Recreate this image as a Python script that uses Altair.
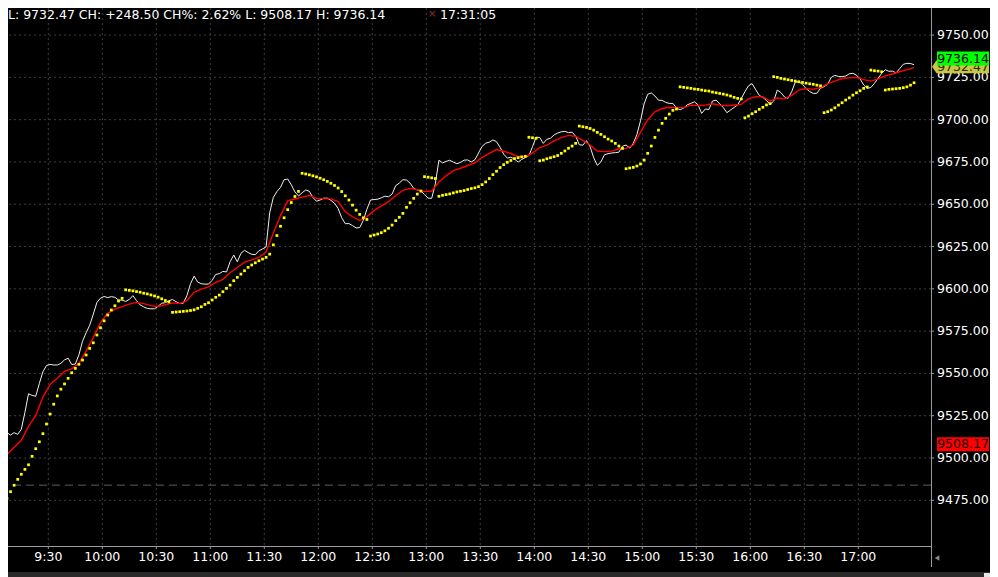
import altair as alt
import pandas as pd

# ---------------- data ----------------
# 2-minute bars, time in minutes after midnight (9:03 ... 17:31)
bar_times = list(range(543, 1052, 2))

price = [
    9524.4, 9523.8, 9515.0, 9513.6, 9515.0, 9514.0, 9517.0, 9527.0, 9538.0, 9537.0,
    9536.5, 9544.0, 9551.0, 9554.7, 9555.3, 9555.0, 9555.0, 9556.0, 9558.0, 9559.0,
    9555.3, 9555.5, 9561.0, 9569.0, 9574.0, 9578.5, 9585.0, 9592.0, 9594.5, 9595.5,
    9594.8, 9595.4, 9595.0, 9593.4, 9593.3, 9592.6, 9593.7, 9596.0, 9593.0, 9590.5,
    9589.3, 9588.4, 9588.2, 9588.2, 9589.7, 9591.5, 9591.8, 9593.0, 9593.7, 9592.4,
    9591.3, 9591.5, 9596.0, 9603.0, 9607.5, 9604.0, 9603.0, 9602.8, 9602.8, 9605.0,
    9608.5, 9609.0, 9610.3, 9610.0, 9616.0, 9620.0, 9616.0, 9621.0, 9622.8, 9621.5,
    9620.4, 9620.2, 9622.5, 9623.6, 9624.8, 9645.0, 9654.0, 9657.5, 9660.0, 9664.5,
    9664.9, 9661.5, 9657.3, 9654.9, 9656.8, 9658.4, 9657.7, 9654.0, 9651.8, 9652.5,
    9653.6, 9653.6, 9652.3, 9650.6, 9647.5, 9642.0, 9638.5, 9638.6, 9637.4, 9636.0,
    9636.2, 9640.5, 9647.0, 9652.5, 9652.8, 9653.0, 9653.8, 9654.8, 9654.4, 9656.0,
    9661.0, 9662.5, 9664.5, 9664.3, 9662.5, 9659.4, 9658.4, 9657.9, 9655.7, 9653.6,
    9653.5, 9662.0, 9676.0, 9674.5, 9675.3, 9676.0, 9674.9, 9674.0, 9674.7, 9676.1,
    9676.2, 9675.0, 9676.3, 9680.3, 9684.2, 9686.1, 9686.7, 9688.0, 9687.0, 9683.7,
    9679.6, 9677.3, 9677.8, 9676.7, 9674.9, 9676.5, 9677.6, 9678.8, 9684.0, 9689.6,
    9689.5, 9686.0, 9688.4, 9689.0, 9691.0, 9692.1, 9692.8, 9693.1, 9692.3, 9692.6,
    9690.2, 9685.2, 9684.9, 9687.6, 9684.0, 9677.5, 9673.0, 9675.0, 9679.3, 9679.9,
    9680.3, 9680.5, 9680.8, 9684.3, 9685.0, 9683.2, 9686.0, 9691.2, 9699.3, 9709.3,
    9715.0, 9715.8, 9714.0, 9711.5, 9711.4, 9710.2, 9709.6, 9709.6, 9706.8, 9705.8,
    9706.9, 9708.8, 9709.6, 9710.6, 9708.7, 9703.7, 9706.3, 9706.0, 9711.0, 9711.6,
    9709.3, 9707.2, 9704.1, 9705.7, 9707.2, 9708.8, 9712.5, 9716.5, 9720.0, 9721.3,
    9717.7, 9714.3, 9713.2, 9711.3, 9709.0, 9711.0, 9717.5, 9716.0, 9713.4, 9712.6,
    9716.5, 9722.2, 9722.4, 9720.8, 9718.4, 9716.6, 9715.5, 9715.6, 9718.6, 9719.5,
    9721.0, 9725.0, 9726.2, 9725.5, 9725.4, 9725.8, 9727.1, 9727.4, 9726.3, 9724.1,
    9720.5, 9718.5, 9719.0, 9721.5, 9724.5, 9727.4, 9729.5, 9728.6, 9728.7, 9727.6,
    9730.2, 9732.7, 9733.3, 9733.2, 9732.47,
]

sar = [
    9466.9, 9471.6, 9476.2, 9480.1, 9483.9, 9487.4, 9490.4, 9493.3, 9496.0, 9501.0,
    9505.5, 9509.6, 9514.4, 9520.1, 9526.0, 9531.8, 9536.7, 9540.7, 9543.8, 9547.1,
    9550.4, 9553.0, 9555.4, 9557.9, 9560.9, 9564.8, 9568.1, 9572.7, 9577.0, 9581.1,
    9584.5, 9587.5, 9590.0, 9592.8, 9594.4, 9599.4, 9599.1, 9598.8, 9598.4, 9598.0,
    9597.4, 9597.0, 9596.4, 9595.8, 9595.1, 9594.1, 9593.1, 9592.3, 9586.1, 9586.3,
    9586.5, 9586.7, 9586.9, 9587.2, 9587.6, 9588.5, 9589.4, 9590.8, 9591.8, 9593.4,
    9595.0, 9596.3, 9598.3, 9600.3, 9602.2, 9604.8, 9606.8, 9608.7, 9610.7, 9612.7,
    9614.1, 9615.4, 9616.6, 9617.6, 9618.6, 9620.5, 9626.0, 9631.5, 9637.0, 9642.0,
    9646.8, 9651.0, 9654.6, 9657.6, 9668.3, 9667.9, 9667.4, 9666.8, 9666.2, 9665.4,
    9664.5, 9663.5, 9662.4, 9661.1, 9659.6, 9657.5, 9655.0, 9652.5, 9649.5, 9646.5,
    9644.0, 9642.0, 9641.0, 9631.2, 9631.8, 9632.4, 9633.2, 9634.3, 9635.8, 9637.7,
    9640.3, 9642.3, 9644.6, 9648.2, 9650.9, 9653.5, 9656.0, 9657.8, 9666.3, 9666.0,
    9665.6, 9665.2, 9654.7, 9655.3, 9655.7, 9656.1, 9656.7, 9657.3, 9657.7, 9658.1,
    9658.7, 9659.3, 9659.7, 9660.4, 9661.6, 9663.2, 9665.2, 9667.5, 9669.5, 9671.7,
    9673.4, 9674.8, 9675.9, 9677.0, 9677.5, 9678.0, 9678.3, 9689.6, 9689.3, 9689.0,
    9675.7, 9676.1, 9676.9, 9677.5, 9678.1, 9678.8, 9680.1, 9681.5, 9683.1, 9684.4,
    9686.0, 9696.2, 9695.8, 9695.4, 9694.8, 9693.8, 9692.5, 9691.3, 9689.9, 9688.5,
    9687.4, 9686.0, 9684.4, 9683.0, 9671.0, 9671.4, 9671.8, 9672.6, 9673.8, 9676.1,
    9680.1, 9684.4, 9689.5, 9693.8, 9697.8, 9700.8, 9703.3, 9705.5, 9706.3, 9719.4,
    9719.1, 9718.8, 9718.5, 9718.1, 9717.9, 9717.5, 9717.1, 9716.9, 9716.3, 9715.9,
    9715.5, 9715.1, 9714.6, 9714.0, 9713.2, 9712.6, 9712.2, 9701.1, 9702.1, 9703.5,
    9704.7, 9706.1, 9707.3, 9708.7, 9709.5, 9725.4, 9725.0, 9724.4, 9724.0, 9723.6,
    9723.2, 9722.8, 9722.4, 9722.0, 9721.6, 9721.2, 9720.9, 9720.4, 9720.0, 9704.1,
    9704.7, 9705.7, 9707.0, 9708.6, 9710.0, 9711.6, 9712.9, 9714.5, 9715.9, 9717.1,
    9718.5, 9719.3, 9729.3, 9728.9, 9728.7, 9728.3, 9717.5, 9717.9, 9718.1, 9718.3,
    9718.5, 9718.9, 9719.4, 9720.4, 9721.8,
]

# moving average, sampled every 4 minutes
ma_times = list(range(543, 1052, 4))
ma = [
    9491.0, 9502.0, 9506.3, 9510.5, 9518.7, 9525.0, 9536.0, 9543.5, 9547.2, 9551.2,
    9552.7, 9556.0, 9563.2, 9571.3, 9580.0, 9585.5, 9588.0, 9589.5, 9591.0, 9592.0,
    9591.3, 9590.1, 9589.6, 9590.6, 9591.7, 9591.3, 9593.0, 9597.9, 9599.8, 9601.2,
    9603.8, 9605.6, 9609.5, 9612.6, 9615.8, 9617.1, 9618.6, 9621.8, 9633.0, 9643.3,
    9652.0, 9653.1, 9654.2, 9655.2, 9653.5, 9653.3, 9653.2, 9651.6, 9645.5, 9642.6,
    9640.4, 9642.7, 9646.2, 9649.0, 9651.5, 9655.2, 9658.2, 9659.4, 9658.6, 9657.5,
    9657.8, 9663.1, 9666.8, 9669.9, 9671.3, 9672.9, 9674.5, 9677.7, 9680.1, 9682.3,
    9681.3, 9680.0, 9678.2, 9678.1, 9680.2, 9683.5, 9685.0, 9687.5, 9689.4, 9690.7,
    9690.1, 9687.8, 9685.0, 9681.5, 9681.1, 9681.4, 9682.8, 9683.0, 9685.0, 9692.5,
    9700.0, 9704.6, 9706.6, 9707.3, 9707.1, 9707.1, 9708.6, 9708.4, 9708.6, 9709.4,
    9708.6, 9708.2, 9708.7, 9709.0, 9712.3, 9713.6, 9713.5, 9711.0, 9712.8, 9712.3,
    9714.4, 9717.5, 9718.4, 9717.9, 9719.0, 9721.3, 9722.8, 9724.3, 9724.7, 9725.0,
    9723.7, 9722.8, 9724.1, 9725.9, 9727.0, 9728.3, 9729.6, 9730.8,
]

x_ticks = [570, 600, 630, 660, 690, 720, 750, 780, 810, 840, 870, 900, 930, 960, 990, 1020]
x_labels = ["9:30", "10:00", "10:30", "11:00", "11:30", "12:00", "12:30", "13:00",
            "13:30", "14:00", "14:30", "15:00", "15:30", "16:00", "16:30", "17:00"]
y_ticks = [9475, 9500, 9525, 9550, 9575, 9600, 9625, 9650, 9675, 9700, 9725, 9750]
y_labels = ["9475.00", "9500.00", "9525.00", "9550.00", "9575.00", "9600.00",
            "9625.00", "9650.00", "9675.00", "9700.00", "9725.00", "9750.00"]

last_price = 9732.47
day_high = 9736.14
day_low = 9508.17
prev_close = 9483.97
header_text = "L: 9732.47 CH: +248.50 CH%: 2.62% L: 9508.17 H: 9736.14"
clock_text = "17:31:05"

# ---------------- chart ----------------
FONT = "DejaVu Sans"
W, H = 923, 538                 # plot area (page has an 8px margin)
PAD_R, PAD_B = 59, 31           # room for the right axis / bottom labels / bottom strip
xs = alt.Scale(domain=[547.6, 1060.4], nice=False, zero=False)
ys = alt.Scale(domain=[9448.0, 9766.0], nice=False, zero=False)

AX = "#9a9a9a"
GRID = "#3e3e3e"

df = pd.DataFrame({"t": bar_times, "price": price, "sar": sar})
mdf = pd.DataFrame({"t": ma_times, "ma": ma})
xt_df = pd.DataFrame({"t": x_ticks, "lab": x_labels})
yt_df = pd.DataFrame({"v": y_ticks, "lab": y_labels})
one = pd.DataFrame({"s": [header_text], "c": [clock_text], "x": ["\u00d7"]})


def X(field="t"):
    return alt.X(f"{field}:Q", scale=xs, axis=None)


def Y(field):
    return alt.Y(f"{field}:Q", scale=ys, axis=None)


# --- axes: grid, domain lines, ticks and labels (positioned through the scales) ---
grid_v = alt.Chart(xt_df).mark_rule(color=GRID, strokeDash=[2, 3], strokeWidth=1).encode(x=X())
grid_h = alt.Chart(yt_df).mark_rule(color=GRID, strokeDash=[2, 3], strokeWidth=1).encode(y=Y("v"))
x_tick_marks = alt.Chart(xt_df).mark_rule(color=AX).encode(
    x=X(), y=alt.value(H), y2=alt.value(H + 3))
y_tick_marks = alt.Chart(yt_df).mark_rule(color=AX).encode(
    y=Y("v"), x=alt.value(W), x2=alt.value(W + 3))
x_tick_labels = alt.Chart(xt_df).mark_text(
    font=FONT, fontSize=12.5, color="#ffffff", align="center", baseline="middle"
).encode(x=X(), y=alt.value(H + 11), text="lab:N")
y_tick_labels = alt.Chart(yt_df).mark_text(
    font=FONT, fontSize=12.5, color="#ffffff", align="left", baseline="middle"
).encode(y=Y("v"), x=alt.value(W + 6), text="lab:N")
bottom_domain = alt.Chart(one).mark_rule(color=AX).encode(
    x=alt.value(0), x2=alt.value(W), y=alt.value(H + 0.5))
right_domain = alt.Chart(one).mark_rule(color=AX).encode(
    x=alt.value(W + 0.5), y=alt.value(0), y2=alt.value(H + 21))

# --- series ---
prev_rule = alt.Chart(pd.DataFrame({"v": [prev_close]})).mark_rule(
    color="#5e5e5e", strokeDash=[8, 5], strokeWidth=1
).encode(y=Y("v"))
price_line = alt.Chart(df).mark_line(color="#f0f0f0", strokeWidth=1, clip=True).encode(
    x=X(), y=Y("price"))
ma_line = alt.Chart(mdf).mark_line(color="#ff0000", strokeWidth=1.4, clip=True).encode(
    x=X(), y=Y("ma"))
sar_dots = alt.Chart(df).mark_square(size=7.5, color="#ffff00", opacity=1, clip=True).encode(
    x=X(), y=Y("sar"))

# --- price tags on the right axis ---
last_df = pd.DataFrame({"v": [last_price], "label": [f"{last_price:.2f}"]})
high_df = pd.DataFrame({"v": [day_high], "label": [f"{day_high:.2f}"]})
low_df = pd.DataFrame({"v": [day_low], "label": [f"{day_low:.2f}"]})

ARROW = "M-1,0L-0.84,-0.23L1,-0.23L1,0.23L-0.84,0.23Z"
BOX = "M-1,-0.27L1,-0.27L1,0.27L-1,0.27Z"


def tag_box(d, shape, size, xc, fill, dy=0):
    return alt.Chart(d).mark_point(
        shape=shape, size=size, filled=True, color=fill, opacity=1, strokeWidth=0, yOffset=dy
    ).encode(x=alt.value(xc), y=Y("v"))


def tag_text(d, tcolor, dy=0):
    return alt.Chart(d).mark_text(
        font=FONT, fontSize=12.5, color=tcolor, align="center", baseline="middle", dy=dy
    ).encode(x=alt.value(955), y=Y("v"), text="label:N")


# --- header texts ---
header = alt.Chart(one).mark_text(
    font=FONT, fontSize=12.5, color="#ffffff", align="left", baseline="top"
).encode(x=alt.value(0), y=alt.value(1), text="s:N")
cross2 = alt.Chart(one).mark_text(
    font=FONT, fontSize=10, color="#8a3030", align="left", baseline="top"
).encode(x=alt.value(420), y=alt.value(1), text="x:N")
clock = alt.Chart(one).mark_text(
    font=FONT, fontSize=12.5, color="#ffffff", align="left", baseline="top"
).encode(x=alt.value(432), y=alt.value(1), text="c:N")

# --- small decorations below the axis ---
arrow_icon = alt.Chart(one).mark_point(
    shape="triangle-left", size=30, filled=True, color="#8a8a8a", opacity=1
).encode(x=alt.value(W + 6), y=alt.value(H + 12))
strip = alt.Chart(one).mark_rect(color="#2a2a2a").encode(
    x=alt.value(-8), x2=alt.value(W + PAD_R), y=alt.value(H + 26), y2=alt.value(H + PAD_B))
thumb = alt.Chart(one).mark_rect(color="#e6e6e6").encode(
    x=alt.value(W + 53), x2=alt.value(W + PAD_R), y=alt.value(H + 27), y2=alt.value(H + PAD_B))

chart = alt.layer(
    grid_v, grid_h, prev_rule,
    price_line, ma_line, sar_dots,
    bottom_domain, right_domain, x_tick_marks, y_tick_marks,
    x_tick_labels, y_tick_labels,
    tag_box(last_df, ARROW, 57 * 57, 952.5, "#c9c646", dy=2),
    tag_text(last_df, "#2a2a00", dy=2),
    tag_box(high_df, BOX, 52 * 52, 955, "#00ff00"),
    tag_text(high_df, "#000000"),
    tag_box(low_df, BOX, 52 * 52, 955, "#ff0000"),
    tag_text(low_df, "#1a0000"),
    header, cross2, clock, arrow_icon, strip, thumb,
).properties(
    width=W, height=H,
    autosize=alt.AutoSizeParams(type="none"),
    padding={"left": 0, "top": 0, "right": PAD_R, "bottom": PAD_B},
    background="#000000",
    usermeta={"embedOptions": {"defaultStyle": "html,body{background:#000000;overflow:hidden}"}},
).configure_view(strokeWidth=0)

chart.save("out.html", embed_options={"renderer": "svg", "actions": False})
